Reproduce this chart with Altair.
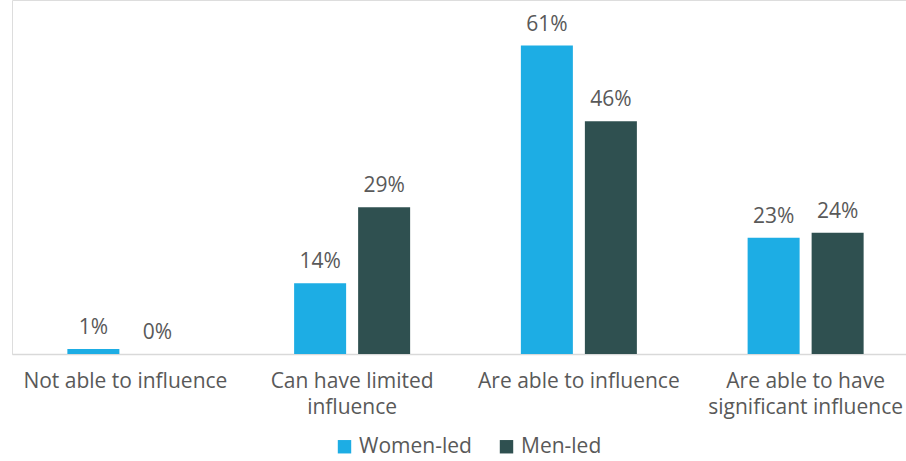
import altair as alt
import pandas as pd

categories = ["Not able to influence", "Can have limited influence",
              "Are able to influence", "Are able to have significant influence"]
label_lines = {
    "Not able to influence": ["Not able to influence"],
    "Can have limited influence": ["Can have limited", "influence"],
    "Are able to influence": ["Are able to influence"],
    "Are able to have significant influence": ["Are able to have", "significant influence"],
}
series = ["Women-led", "Men-led"]
women_led = [1, 14, 61, 23]
men_led = [0, 29, 46, 24]
colors = ["#1DADE4", "#2F5050"]

rows = []
for c, w, m in zip(categories, women_led, men_led):
    rows.append({"category": c, "group": "Women-led", "value": w})
    rows.append({"category": c, "group": "Men-led", "value": m})
df = pd.DataFrame(rows)

expr_parts = []
for k, v in label_lines.items():
    arr = "[" + ",".join("'" + s + "'" for s in v) + "]"
    expr_parts.append(f"datum.value == '{k}' ? {arr}")
label_expr = " : ".join(expr_parts) + " : datum.value"

FONT = "Open Sans"
GRAY = "#595959"

base = alt.Chart(df).encode(
    x=alt.X("category:N", sort=categories, title=None,
            scale=alt.Scale(paddingInner=0, paddingOuter=0, range=[0, 907]),
            axis=alt.Axis(labelAngle=0, labelExpr=label_expr, labelFont=FONT,
                          labelFontSize=21, labelColor=GRAY, labelPadding=16,
                          labelLineHeight=26, ticks=False, domainColor="#D9D9D9",
                          domainWidth=1.5, labelLimit=300)),
    xOffset=alt.XOffset("group:N", sort=series,
                        scale=alt.Scale(paddingInner=0.1875, paddingOuter=0.865)),
    y=alt.Y("value:Q", scale=alt.Scale(domain=[0, 70], nice=False), axis=None),
)

bars = base.mark_bar().encode(
    color=alt.Color("group:N", sort=series,
                    scale=alt.Scale(domain=series, range=colors),
                    legend=alt.Legend(title=None, orient="none", direction="horizontal",
                                      legendX=322, legendY=436, symbolType="square",
                                      symbolSize=180, labelFont=FONT, labelFontSize=21,
                                      labelColor=GRAY, columnPadding=24,
                                      symbolStrokeWidth=0)),
)

labels = base.mark_text(baseline="alphabetic", dy=-15, font=FONT, fontSize=21,
                        color=GRAY).transform_calculate(
    pct="datum.value + '%'").encode(text="pct:N")

chart = alt.layer(bars, labels).properties(
    width=894, height=354,
    padding={"left": 12, "top": 0, "right": 0, "bottom": 107},
    autosize=alt.AutoSizeParams(type="none"),
).configure_view(stroke=None).configure(background="white")

chart.save("out.html", embed_options={"renderer": "svg", "actions": False})
